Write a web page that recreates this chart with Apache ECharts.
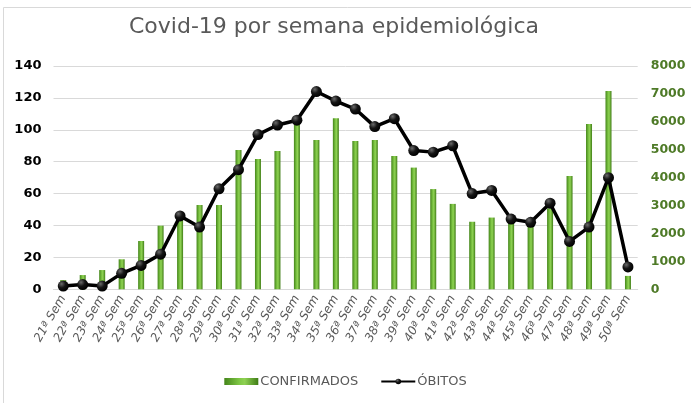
<!DOCTYPE html>
<html>
<head>
<meta charset="utf-8">
<script src="https://cdn.jsdelivr.net/npm/echarts@6/dist/echarts.min.js"></script>
<style>html,body{margin:0;padding:0;background:#fff}#c{width:691px;height:403px}</style>
</head>
<body>
<div id="c"></div>
<script>
const categories = ['21ª Sem','22ª Sem','23ª Sem','24ª Sem','25ª Sem','26ª Sem','27ª Sem','28ª Sem','29ª Sem','30ª Sem','31ª Sem','32ª Sem','33ª Sem','34ª Sem','35ª Sem','36ª Sem','37ª Sem','38ª Sem','39ª Sem','40ª Sem','41ª Sem','42ª Sem','43ª Sem','44ª Sem','45ª Sem','46ª Sem','47ª Sem','48ª Sem','49ª Sem','50ª Sem'];
const confirmados = [330,510,690,1075,1730,2280,2700,3020,3020,4990,4670,4955,5900,5350,6130,5310,5350,4780,4360,3590,3060,2420,2570,2450,2350,2900,4060,5920,7100,480];
const obitos = [2,3,2,10,15,22,46,39,63,75,97,103,106,124,118,113,102,107,87,86,90,60,62,44,42,54,30,39,70,14];
const leftTicks = {min:0, max:140, interval:20};
const rightTicks = {min:0, max:8000, interval:1000};

const chart = echarts.init(document.getElementById('c'), null, {renderer:'canvas'});
const barGrad = new echarts.graphic.LinearGradient(0,0,1,0,[
  {offset:0,color:'#44851a'},{offset:0.45,color:'#80c846'},{offset:0.6,color:'#8ed153'},{offset:1,color:'#3f7c15'}
]);
const dotGrad = new echarts.graphic.RadialGradient(0.35,0.3,0.7,[
  {offset:0,color:'#6a6a6a'},{offset:0.5,color:'#151515'},{offset:1,color:'#000'}
]);
chart.setOption({
  animation:false,
  title:{text:'Covid-19 por semana epidemiológica', left:124, top:11,
    textStyle:{fontFamily:'DejaVu Sans', fontSize:22, fontWeight:'normal', color:'#595959'}},
  graphic:[{type:'rect', shape:{x:3.5,y:7.5,width:720,height:420}, style:{fill:'none', stroke:'#d9d9d9', lineWidth:1}, silent:true}],
  grid:{left:53.5, right:53.3, top:66, bottom:113.7},
  legend:{bottom:10, left:'center', itemGap:22, itemWidth:34, itemHeight:7,
    textStyle:{fontFamily:'DejaVu Sans', fontSize:13, color:'#595959', padding:[0,0,0,-3]},
    data:[{name:'CONFIRMADOS', icon:'rect'},{name:'ÓBITOS'}]},
  xAxis:{type:'category', data:categories, boundaryGap:true,
    axisTick:{show:false}, axisLine:{lineStyle:{color:'#d9d9d9'}},
    axisLabel:{rotate:60, interval:0, fontFamily:'DejaVu Sans', fontStyle:'italic', fontSize:12, color:'#595959', margin:7}},
  yAxis:[
    {type:'value', min:leftTicks.min, max:leftTicks.max, interval:leftTicks.interval,
      axisLine:{show:false}, axisTick:{show:false},
      splitLine:{lineStyle:{color:'#d9d9d9'}},
      axisLabel:{fontFamily:'DejaVu Sans', fontWeight:'bold', fontSize:13, color:'#000', margin:12}},
    {type:'value', min:rightTicks.min, max:rightTicks.max, interval:rightTicks.interval,
      axisLine:{show:false}, axisTick:{show:false}, splitLine:{show:false},
      axisLabel:{fontFamily:'DejaVu Sans', fontWeight:'bold', fontSize:12.5, color:'#4e7a27', margin:13,
        formatter:v=>String(v)}}
  ],
  series:[
    {name:'CONFIRMADOS', type:'bar', yAxisIndex:1, data:confirmados, barWidth:6,
      itemStyle:{color:barGrad}},
    {name:'ÓBITOS', type:'line', yAxisIndex:0, data:obitos, symbol:'circle', symbolSize:11,
      lineStyle:{color:'#000', width:3.5}, itemStyle:{color:dotGrad, borderWidth:0}, z:5}
  ]
});
</script>
</body>
</html>
